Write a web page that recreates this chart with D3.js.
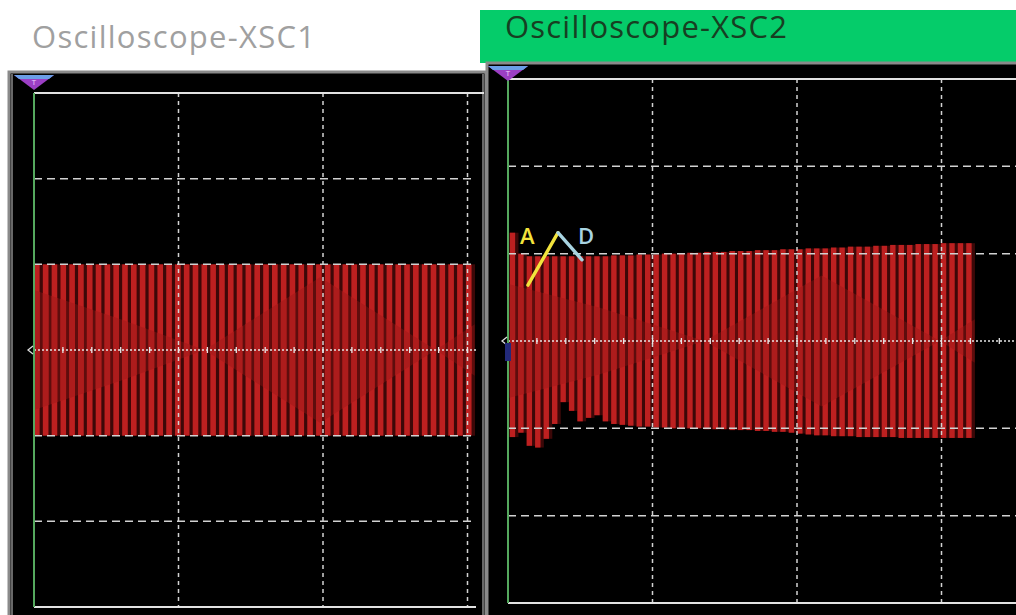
<!DOCTYPE html>
<html><head><meta charset="utf-8">
<script src="https://cdn.jsdelivr.net/npm/d3@7/dist/d3.min.js"></script>
<style>html,body{margin:0;padding:0;background:#fff;overflow:hidden}svg{display:block}</style>
</head><body>
<svg id="c" width="1016" height="615"></svg>
<script>
// ---------------- data ----------------
const titles = ["Oscilloscope-XSC1", "Oscilloscope-XSC2"];
const gridDivsX = [1, 2, 3];
const gridDivsY = [-2, -1, 1, 2];
const minorStep = 0.2;

// XSC1: carrier cycles (start, period in divisions), per-cycle peak/trough (divisions)
const xsc1Start = 0.0, xsc1Period = 0.061;
const xsc1High = [1.0,1.0,1.0,1.0,1.0,1.0,1.0,1.0,1.0,1.0, 1.0,1.0,1.0,1.0,1.0,1.0,1.0,1.0,1.0,1.0,
                  1.0,1.0,1.0,1.0,1.0,1.0,1.0,1.0,1.0,1.0, 1.0,1.0,1.0,1.0,1.0,1.0,1.0,1.0,1.0,1.0,
                  1.0,1.0,1.0,1.0,1.0,1.0,1.0,1.0,1.0,1.0];
const xsc1Low  = [-1.0,-1.0,-1.0,-1.0,-1.0,-1.0,-1.0,-1.0,-1.0,-1.0, -1.0,-1.0,-1.0,-1.0,-1.0,-1.0,-1.0,-1.0,-1.0,-1.0,
                  -1.0,-1.0,-1.0,-1.0,-1.0,-1.0,-1.0,-1.0,-1.0,-1.0, -1.0,-1.0,-1.0,-1.0,-1.0,-1.0,-1.0,-1.0,-1.0,-1.0,
                  -1.0,-1.0,-1.0,-1.0,-1.0,-1.0,-1.0,-1.0,-1.0,-1.0];
// beat (inner X pattern) envelope keypoints
const xsc1BeatT = [0.0, 0.6, 1.18, 1.98, 2.78, 3.05];
const xsc1BeatV = [0.70, 0.36, 0.0, 0.85, 0.0, 0.30];

// XSC2
const xsc2Start = 0.012, xsc2Period = 0.0585;
const xsc2High = [1.24,1.00,0.97,0.97,0.97,0.97,0.97,0.97,0.97,0.97,
                  0.97,0.97,0.98,0.98,0.98,0.99,0.99,0.99,1.00,1.00,
                  1.00,1.01,1.01,1.02,1.02,1.02,1.03,1.03,1.03,1.04,
                  1.04,1.04,1.05,1.05,1.05,1.06,1.06,1.06,1.07,1.07,
                  1.08,1.08,1.08,1.09,1.09,1.10,1.10,1.10,1.11,1.11,
                  1.11,1.12,1.12,1.12,1.12];
const xsc2Low  = [-1.10,-1.05,-1.20,-1.22,-1.12,-0.95,-0.70,-0.80,-0.92,-0.88,
                  -0.85,-0.92,-0.95,-0.96,-0.97,-0.98,-0.98,-0.99,-0.99,-1.00,
                  -1.00,-1.00,-1.00,-1.01,-1.01,-1.01,-1.02,-1.02,-1.02,-1.03,
                  -1.03,-1.04,-1.04,-1.05,-1.06,-1.07,-1.08,-1.08,-1.09,-1.09,
                  -1.09,-1.10,-1.10,-1.10,-1.10,-1.10,-1.11,-1.11,-1.11,-1.11,
                  -1.11,-1.11,-1.11,-1.11,-1.11];
const xsc2BeatT = [0.01, 0.637, 1.36, 2.17, 2.99, 3.23];
const xsc2BeatV = [0.65, 0.38, 0.0, 0.75, 0.0, 0.25];

// cursors on XSC2 (time div, volts div)
const cursorA = [[0.138, 0.64], [0.346, 1.24]];
const cursorD = [[0.346, 1.24], [0.512, 0.93]];
const cursorLabels = ["A", "D"];

// ---------------- drawing ----------------
const svg = d3.select("#c");
const defs = svg.append("defs");

// Window chrome
svg.append("rect").attr("x",480).attr("y",10).attr("width",536).attr("height",53).attr("fill","#05cc6a");
svg.append("text").attr("x",32).attr("y",48).text(titles[0])
  .attr("font-family","Open Sans, sans-serif").attr("font-size",31).attr("fill","#a0a0a0")
  .attr("textLength",283).attr("lengthAdjust","spacing");
svg.append("text").attr("x",505).attr("y",38).text(titles[1])
  .attr("font-family","Open Sans, sans-serif").attr("font-size",31).attr("fill","#173f22")
  .attr("textLength",282).attr("lengthAdjust","spacing");

// panel backgrounds
svg.append("rect").attr("x",9).attr("y",72).attr("width",477).attr("height",550)
  .attr("fill","#000").attr("stroke","#8a8a8a").attr("stroke-width",3);
svg.append("rect").attr("x",487).attr("y",63).attr("width",540).attr("height",560)
  .attr("fill","#000").attr("stroke","#8a8a8a").attr("stroke-width",3);
svg.append("line").attr("x1",12).attr("x2",12).attr("y1",74).attr("y2",615).attr("stroke","#cfcfcf").attr("stroke-width",1);
svg.append("line").attr("x1",483).attr("x2",483).attr("y1",74).attr("y2",615).attr("stroke","#cfcfcf").attr("stroke-width",1);

function panel(cfg, idx) {
  const x = d3.scaleLinear().domain([0, 3]).range([cfg.left, cfg.left + 3 * cfg.divW]);
  const y = d3.scaleLinear().domain([-3, 3]).range([cfg.bottom, cfg.top]);
  const g = svg.append("g");

  // lens (inner beat) clip
  const beat = cfg.beatT.map((t, i) => ({t, v: cfg.beatV[i]}));
  const area = d3.area().x(d => x(d.t)).y0(d => y(-d.v)).y1(d => y(d.v)).curve(d3.curveLinear);
  defs.append("clipPath").attr("id", "lens" + idx).append("path").attr("d", area(beat));

  const cycles = cfg.high.map((h, i) => ({t0: cfg.start + i * cfg.period, h, l: cfg.low[i]}));
  // gap colour
  g.selectAll("rect.gap").data(cycles).join("rect").attr("class","gap")
    .attr("x", d => x(d.t0)).attr("width", d => x(d.t0 + cfg.period) - x(d.t0) + 0.3)
    .attr("y", d => y(d.h)).attr("height", d => y(d.l) - y(d.h)).attr("fill", "#3c0808");
  // inner gap colour
  g.append("g").attr("clip-path", `url(#lens${idx})`)
    .selectAll("rect").data(cycles).join("rect")
    .attr("x", d => x(d.t0)).attr("width", d => x(d.t0 + cfg.period) - x(d.t0) + 0.3)
    .attr("y", d => y(d.h)).attr("height", d => y(d.l) - y(d.h)).attr("fill", "#5e0d0d");
  // stripes
  const sw = d => (x(d.t0 + cfg.period) - x(d.t0)) * 0.64;
  g.selectAll("rect.str").data(cycles).join("rect").attr("class","str")
    .attr("x", d => x(d.t0)).attr("width", sw)
    .attr("y", d => y(d.h)).attr("height", d => y(d.l) - y(d.h)).attr("fill", "#bd2020");
  g.append("g").attr("clip-path", `url(#lens${idx})`)
    .selectAll("rect").data(cycles).join("rect")
    .attr("x", d => x(d.t0)).attr("width", sw)
    .attr("y", d => y(d.h)).attr("height", d => y(d.l) - y(d.h)).attr("fill", "#ad1c1c");

  // grid
  const gc = "#d2d2d2";
  g.selectAll("line.vg").data(gridDivsX.filter(d => x(d) <= cfg.right)).join("line")
    .attr("x1", d => x(d)).attr("x2", d => x(d)).attr("y1", cfg.top).attr("y2", cfg.bottom)
    .attr("stroke", gc).attr("stroke-width", 1.5).attr("stroke-dasharray", "4 4");
  g.selectAll("line.hg").data(gridDivsY).join("line")
    .attr("x1", cfg.left).attr("x2", cfg.right).attr("y1", d => y(d)).attr("y2", d => y(d))
    .attr("stroke", gc).attr("stroke-width", 1.5).attr("stroke-dasharray", "8 5");
  // centre axis
  g.append("line").attr("x1", cfg.left).attr("x2", cfg.right).attr("y1", y(0)).attr("y2", y(0))
    .attr("stroke", "#e6e6e6").attr("stroke-width", 1.3).attr("stroke-dasharray", "2 2");
  const minors = d3.range(minorStep, (cfg.right - cfg.left) / cfg.divW, minorStep);
  g.selectAll("line.mt").data(minors).join("line")
    .attr("x1", d => x(d)).attr("x2", d => x(d)).attr("y1", y(0) - 3).attr("y2", y(0) + 3)
    .attr("stroke", "#e6e6e6").attr("stroke-width", 1.3);

  // plot borders
  g.append("line").attr("x1", cfg.left).attr("x2", cfg.right + 8).attr("y1", cfg.top).attr("y2", cfg.top)
    .attr("stroke", "#e2e2e2").attr("stroke-width", 1.8);
  g.append("line").attr("x1", cfg.left).attr("x2", cfg.right).attr("y1", cfg.bottom).attr("y2", cfg.bottom)
    .attr("stroke", "#e2e2e2").attr("stroke-width", 1.8);
  g.append("line").attr("x1", cfg.left).attr("x2", cfg.left).attr("y1", cfg.top).attr("y2", cfg.bottom)
    .attr("stroke", "#55a85e").attr("stroke-width", 2);

  // ground marker
  g.append("path").attr("d", `M${cfg.left - 1},${y(0) - 4} L${cfg.left - 6},${y(0)} L${cfg.left - 1},${y(0) + 4}`)
    .attr("fill", "none").attr("stroke", "#ddd").attr("stroke-width", 1.3);

  // trigger marker
  const tx = x(0), ty = cfg.trigY;
  g.append("path").attr("d", `M${tx - 20},${ty} L${tx + 20},${ty} L${tx},${ty + 15} Z`).attr("fill", "#9b3fc4");
  g.append("path").attr("d", `M${tx - 20},${ty} L${tx + 20},${ty} L${tx + 15},${ty + 4} L${tx - 15},${ty + 4} Z`).attr("fill", "#6b9ee6");
  g.append("text").attr("x", tx).attr("y", ty + 10).attr("text-anchor", "middle").text("T")
    .attr("font-family", "DejaVu Sans, sans-serif").attr("font-size", 7).attr("fill", "#f0d0ff");
  return {x, y, g};
}

panel({left: 34, divW: 144.5, top: 93, bottom: 607, right: 476, start: xsc1Start, period: xsc1Period,
       high: xsc1High, low: xsc1Low, beatT: xsc1BeatT, beatV: xsc1BeatV, trigY: 75}, 1);
const p2 = panel({left: 508, divW: 144.5, top: 79, bottom: 603, right: 1016, start: xsc2Start, period: xsc2Period,
       high: xsc2High, low: xsc2Low, beatT: xsc2BeatT, beatV: xsc2BeatV, trigY: 66}, 2);

// channel marker on XSC2
p2.g.append("rect").attr("x", 505).attr("y", p2.y(0) + 2).attr("width", 6).attr("height", 18).attr("fill", "#232a7a");

// cursors
const ln = d3.line().x(d => p2.x(d[0])).y(d => p2.y(d[1]));
p2.g.append("path").attr("d", ln(cursorA)).attr("stroke", "#f2e43c").attr("stroke-width", 3.4).attr("fill", "none").attr("stroke-linecap","round");
p2.g.append("path").attr("d", ln(cursorD)).attr("stroke", "#a8d4e2").attr("stroke-width", 3.4).attr("fill", "none").attr("stroke-linecap","round");
p2.g.append("text").attr("x", p2.x(cursorA[0][0]) - 8).attr("y", p2.y(cursorA[1][1]) + 11).text(cursorLabels[0])
  .attr("font-family", "Open Sans, sans-serif").attr("font-weight", 600).attr("font-size", 22).attr("fill", "#f2e43c");
p2.g.append("text").attr("x", p2.x(cursorD[1][0]) - 4).attr("y", p2.y(cursorA[1][1]) + 11).text(cursorLabels[1])
  .attr("font-family", "Open Sans, sans-serif").attr("font-weight", 600).attr("font-size", 22).attr("fill", "#a8d4e2");
</script>
</body></html>
